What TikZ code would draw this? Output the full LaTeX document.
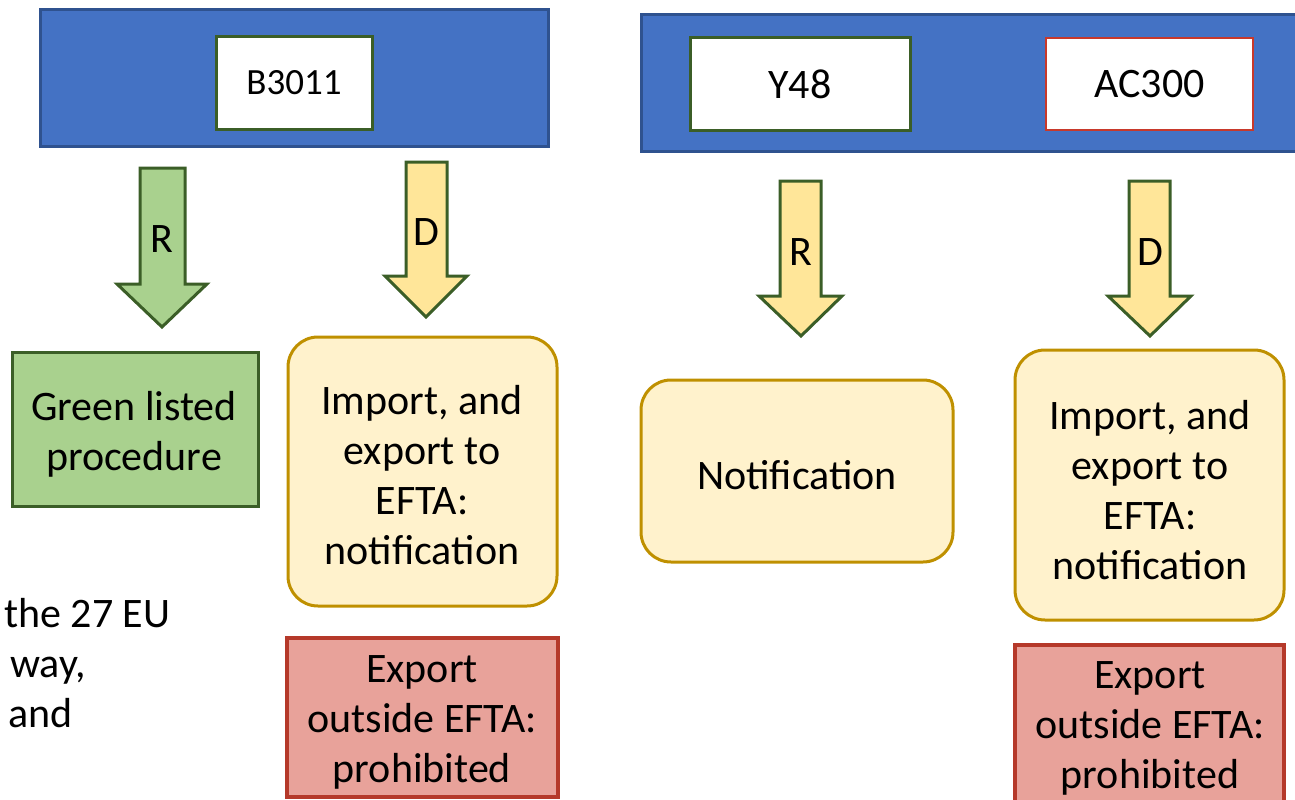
\documentclass[tikz,border=0pt]{standalone}
\usepackage{fontspec}
\setmainfont{Carlito}
\definecolor{barblue}{HTML}{4472C4}
\definecolor{bardark}{HTML}{2F528F}
\definecolor{grfill}{HTML}{A9D18E}
\definecolor{grline}{HTML}{3B5E27}
\definecolor{yarrow}{HTML}{FFE699}
\definecolor{yfill}{HTML}{FFF2CC}
\definecolor{yline}{HTML}{BF9000}
\definecolor{rfill}{HTML}{E8A29A}
\definecolor{rline}{HTML}{B5392A}
\definecolor{acline}{HTML}{C8392B}
\begin{document}
\begin{tikzpicture}[x=1pt,y=-1pt,
  bigtxt/.style={font=\fontsize{42}{50}\selectfont},
  bar/.style={fill=barblue,draw=bardark,line width=3pt},
  codebox/.style={fill=white,line width=3pt,inner sep=0pt,font=\fontsize{37}{44}\selectfont},
  greenbox/.style={fill=grfill,draw=grline,line width=3pt},
  yellowbox/.style={fill=yfill,draw=yline,line width=3pt,rounded corners=30pt},
  redbox/.style={fill=rfill,draw=rline,line width=4pt},
  blockarrow/.style={draw=grline,line width=3pt,line join=miter},
  lbl/.style={bigtxt,inner sep=0pt,align=center}]
\useasboundingbox (0,0) rectangle (1295,800);
\clip (0,0) rectangle (1295,800);

% top bars
\draw[bar] (40,10) rectangle (548,146);
\draw[bar] (641,15) rectangle (1300,151);

% code boxes
\node[codebox,draw=grline,minimum width=156pt,minimum height=92pt] (b3011) at (294,83) {B3011};
\node[codebox,draw=grline,minimum width=220pt,minimum height=92pt,font=\fontsize{42}{48}\selectfont] (y48) at (800,84) {Y48};
\node[codebox,draw=acline,line width=2pt,minimum width=207pt,minimum height=92pt,font=\fontsize{42}{48}\selectfont] (ac300) at (1149.5,84) {AC300};

% block arrows
\draw[blockarrow,fill=grfill] (140,168) -- (185,168) -- (185,284) -- (207,284) -- (162,327) -- (117,284) -- (140,284) -- cycle;
\node[lbl] (rleft) at (162,239) {R};
\draw[blockarrow,fill=yarrow] (406,162) -- (447,162) -- (447,276) -- (467,276) -- (426,317) -- (385,276) -- (406,276) -- cycle;
\node[lbl] (dleft) at (426,232) {D};
\draw[blockarrow,fill=yarrow] (780,181) -- (821,181) -- (821,296) -- (842,296) -- (801,336) -- (759,296) -- (780,296) -- cycle;
\node[lbl] (rright) at (801,252) {R};
\draw[blockarrow,fill=yarrow] (1129,181) -- (1170,181) -- (1170,296) -- (1191,296) -- (1150,336) -- (1108,296) -- (1129,296) -- cycle;
\node[lbl] (dright) at (1150,252) {D};

% result boxes
\draw[greenbox] (12,352) rectangle (258,506);
\node[lbl] (green) at (134,434) {Green listed\\procedure};

\draw[yellowbox] (288,337) rectangle (557,606);
\node[lbl] (impl) at (422,475) {Import, and\\export to\\EFTA:\\notification};

\draw[yellowbox] (641,380) rectangle (953,562);
\node[lbl] (notif) at (797,475) {Notification};

\draw[yellowbox] (1015,350) rectangle (1284,620);
\node[lbl] (impr) at (1150,490) {Import, and\\export to\\EFTA:\\notification};

\draw[redbox] (287,638) rectangle (558,797);
\node[lbl] (expl) at (422,722) {Export\\outside EFTA:\\prohibited};

\draw[redbox] (1015,645) rectangle (1284,810);
\node[lbl] (expr) at (1150,728) {Export\\outside EFTA:\\prohibited};

% cut-off side text
\node[bigtxt,inner sep=0pt,anchor=base west] (t1) at (4,627) {the 27 EU};
\node[bigtxt,inner sep=0pt,anchor=base west] (t2) at (10,677) {way,};
\node[bigtxt,inner sep=0pt,anchor=base west] (t3) at (8,727) {and};
\end{tikzpicture}
\end{document}
